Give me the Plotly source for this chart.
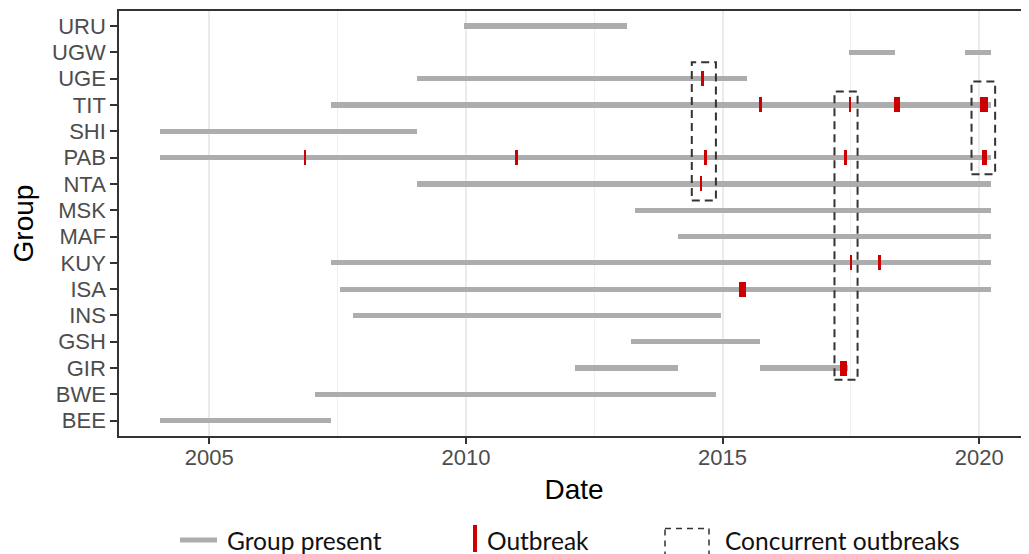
import plotly.graph_objects as go

# ---------------- data ----------------
groups = ["BEE", "BWE", "GIR", "GSH", "INS", "ISA", "KUY", "MAF",
          "MSK", "NTA", "PAB", "SHI", "TIT", "UGE", "UGW", "URU"]

# periods when each group was present (decimal years)
presence_group = ["URU", "UGW", "UGW", "UGE", "TIT", "SHI", "PAB", "NTA", "MSK",
                  "MAF", "KUY", "ISA", "INS", "GSH", "GIR", "GIR", "BWE", "BEE"]
presence_start = [2009.96, 2017.46, 2019.72, 2009.05, 2007.37, 2004.04, 2004.04, 2009.05, 2013.30,
                  2014.14, 2007.37, 2007.54, 2007.80, 2013.21, 2012.13, 2015.72, 2007.05, 2004.04]
presence_end = [2013.13, 2018.35, 2020.22, 2015.47, 2020.22, 2009.05, 2020.22, 2020.22, 2020.22,
                2020.22, 2020.22, 2020.22, 2014.96, 2015.72, 2014.14, 2017.45, 2014.88, 2007.37]

# outbreaks (decimal years)
outbreak_group = ["PAB", "PAB", "PAB", "PAB", "PAB", "UGE", "TIT", "TIT", "TIT", "TIT",
                  "NTA", "KUY", "KUY", "ISA", "GIR"]
outbreak_start = [2006.84, 2010.95, 2014.64, 2017.37, 2020.06, 2014.57, 2015.70, 2017.47, 2018.34, 2020.02,
                  2014.57, 2017.49, 2018.03, 2015.32, 2017.29]
outbreak_end = [2006.88, 2011.01, 2014.70, 2017.42, 2020.15, 2014.63, 2015.76, 2017.50, 2018.46, 2020.17,
                2014.59, 2017.51, 2018.09, 2015.46, 2017.42]

# concurrent outbreak windows
concurrent_start = [2014.40, 2017.18, 2019.85]
concurrent_end = [2014.87, 2017.63, 2020.31]
concurrent_top_group = ["UGE", "TIT", "TIT"]
concurrent_bottom_group = ["NTA", "GIR", "PAB"]

x_ticks = [2005, 2010, 2015, 2020]
legend_labels = ["Group present", "Outbreak", "Concurrent outbreaks"]

# ---------------- style ----------------
GRAY = "#ADADAD"
RED = "#CC0000"
AXIS = "#333333"
TICKFONT = dict(family="Liberation Sans, Arial, sans-serif", size=22, color="#4D4D4D")
TITLEFONT = dict(family="Liberation Sans, Arial, sans-serif", size=28, color="#000000")
LEGFONT = dict(family="Lato, sans-serif", size=24.5, color="#111111")

# the page body has an 8px margin, so the figure is drawn 8px smaller and all
# reference pixel positions are shifted by OFF
OFF = 8
W, H = 1029 - OFF, 554 - OFF
ML, MR, MT, MB = 119 - OFF, 0, 11 - OFF, 554 - 436
PW, PH = W - ML - MR, H - MT - MB

fig = go.Figure()

fig.add_trace(go.Bar(
    orientation="h",
    y=presence_group,
    base=presence_start,
    x=[e - s for s, e in zip(presence_start, presence_end)],
    width=0.2,
    marker=dict(color=GRAY, line=dict(width=0)),
    name=legend_labels[0],
    showlegend=False,
    hoverinfo="skip",
))

fig.add_trace(go.Bar(
    orientation="h",
    y=outbreak_group,
    base=outbreak_start,
    x=[e - s for s, e in zip(outbreak_start, outbreak_end)],
    width=0.57,
    marker=dict(color=RED, line=dict(width=0)),
    name=legend_labels[1],
    showlegend=False,
    hoverinfo="skip",
))

# dashed boxes around concurrent outbreaks
pad_top = [0.62, 0.51, 0.89]
pad_bottom = [0.63, 0.44, 0.63]
for i in range(len(concurrent_start)):
    fig.add_shape(
        type="rect", xref="x", yref="y",
        x0=concurrent_start[i], x1=concurrent_end[i],
        y0=groups.index(concurrent_bottom_group[i]) - pad_bottom[i],
        y1=groups.index(concurrent_top_group[i]) + pad_top[i],
        line=dict(color=AXIS, width=2, dash="8px,5px"),
        fillcolor="rgba(0,0,0,0)",
        layer="above",
    )


# ---------------- manual legend (paper coordinates) ----------------
def px(xpix):
    return (xpix - OFF - ML) / PW


def py(ypix):
    return (H - MB - (ypix - OFF)) / PH


fig.add_shape(type="line", xref="paper", yref="paper",
              x0=px(180), x1=px(217), y0=py(540), y1=py(540),
              line=dict(color=GRAY, width=5))
fig.add_shape(type="rect", xref="paper", yref="paper",
              x0=px(473), x1=px(477), y0=py(525), y1=py(552),
              line=dict(width=0), fillcolor=RED)
fig.add_shape(type="rect", xref="paper", yref="paper",
              x0=px(665), x1=px(709), y0=py(528.5), y1=py(565),
              line=dict(color=AXIS, width=1.5, dash="6px,5px"),
              fillcolor="rgba(0,0,0,0)")
for xpix, label in zip([225, 485, 723], legend_labels):
    fig.add_annotation(x=px(xpix), y=py(540), xref="paper", yref="paper",
                       text=label, showarrow=False, xanchor="left", yanchor="middle",
                       font=LEGFONT)

fig.update_layout(
    width=W, height=H,
    margin=dict(l=ML, r=MR, t=MT, b=MB, pad=0),
    plot_bgcolor="white", paper_bgcolor="white",
    barmode="overlay",
    showlegend=False,
    bargap=0,
)

fig.update_xaxes(
    range=[2003.24, 2020.97],
    tickvals=x_ticks,
    ticktext=[str(t) for t in x_ticks],
    ticks="outside", ticklen=6, tickwidth=1.5, tickcolor=AXIS,
    tickfont=TICKFONT, ticklabelstandoff=-5,
    showline=True, linecolor=AXIS, linewidth=1.5, mirror=True,
    showgrid=True, gridcolor="#EBEBEB", gridwidth=2,
    minor=dict(tickvals=[2007.5, 2012.5, 2017.5], showgrid=True,
               gridcolor="#EFEFEF", gridwidth=1.3, ticks=""),
    zeroline=False,
    title=dict(text="Date", font=TITLEFONT, standoff=10),
)

fig.update_yaxes(
    type="category",
    categoryorder="array", categoryarray=groups,
    range=[-0.58, 15.57],
    ticks="outside", ticklen=7, tickwidth=1.5, tickcolor=AXIS,
    tickfont=TICKFONT,
    showline=True, linecolor=AXIS, linewidth=1.5, mirror=False,
    showgrid=False, zeroline=False,
    title=dict(text="Group", font=TITLEFONT, standoff=12),
)

fig.write_html("out.html")
